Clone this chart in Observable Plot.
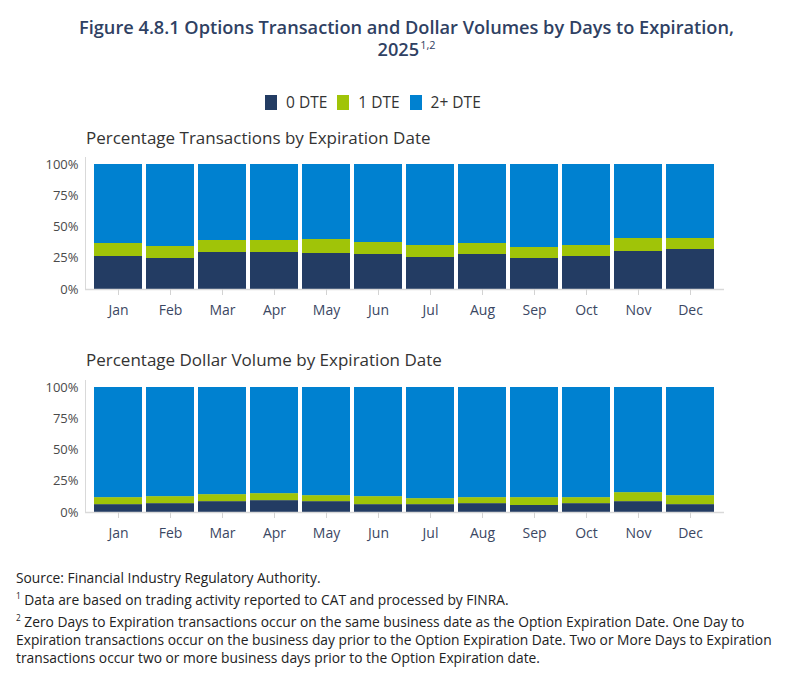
<!DOCTYPE html>
<html><head><meta charset="utf-8">
<script src="https://cdn.jsdelivr.net/npm/d3@7"></script>
<script src="https://cdn.jsdelivr.net/npm/@observablehq/plot@0.6"></script>
<style>
body{margin:0;background:#fff;font-family:"Open Sans",sans-serif;}
#wrap{position:relative;width:805px;height:682px;overflow:hidden;}
.title{position:absolute;left:4px;width:805px;text-align:center;color:#2f4163;font-size:18.2px;font-weight:600;line-height:22px;}
.sub{position:absolute;left:86px;font-size:17px;color:#333;}
.legend{position:absolute;top:91px;left:260px;display:flex;font-size:15.5px;color:#333;}
.legend .it{display:flex;align-items:center;margin:0 5px;}
.legend .sw{width:12px;height:15px;margin-right:9px;}
.chart{position:absolute;left:0;}
.note{position:absolute;left:16px;font-size:13.8px;color:#222;line-height:18px;white-space:nowrap;}
sup{font-size:0.6em;vertical-align:super;line-height:0;}
.title sup{margin-left:1px;font-weight:500;}
</style></head>
<body><div id="wrap">
<div class="title" style="top:16px">Figure 4.8.1 Options Transaction and Dollar Volumes by Days to Expiration,</div>
<div class="title" style="top:38px">2025<sup>1,2</sup></div>
<div class="legend" id="legend"></div>
<div class="sub" style="top:126px">Percentage Transactions by Expiration Date</div>
<div class="chart" id="c1" style="top:150px"></div>
<div class="sub" style="top:348px">Percentage Dollar Volume by Expiration Date</div>
<div class="chart" id="c2" style="top:373px"></div>
<div class="note" style="top:569px">Source: Financial Industry Regulatory Authority.</div>
<div class="note" style="top:591px"><sup>1</sup> Data are based on trading activity reported to CAT and processed by FINRA.</div>
<div class="note" style="top:613px"><sup>2</sup> Zero Days to Expiration transactions occur on the same business date as the Option Expiration Date. One Day to<br>Expiration transactions occur on the business day prior to the Option Expiration Date. Two or More Days to Expiration<br>transactions occur two or more business days prior to the Option Expiration date.</div>
</div>
<script>
const months = ["Jan","Feb","Mar","Apr","May","Jun","Jul","Aug","Sep","Oct","Nov","Dec"];
const series = ["0 DTE","1 DTE","2+ DTE"];
const colors = ["#233c63","#a0c408","#0081d0"];
const yTicks = [0,25,50,75,100];

const txn0 = [26.4,24.8,29.6,29.6,28.8,28.0,25.6,28.0,24.8,26.4,30.4,32.0];
const txn1 = [10.4,9.6,9.6,9.6,11.2,9.6,9.6,8.8,8.8,8.8,10.4,8.8];
const txn2 = [63.2,65.6,60.8,60.8,60.0,62.4,64.8,63.2,66.4,64.8,59.2,59.2];

const dol0 = [6.3,7.1,8.7,9.5,8.7,6.3,6.3,7.1,5.6,7.1,8.7,6.3];
const dol1 = [5.6,5.6,5.6,5.6,4.8,6.4,4.8,4.8,6.3,4.8,7.2,7.2];
const dol2 = [88.1,87.3,85.7,84.9,86.5,87.3,88.9,88.1,88.1,88.1,84.1,86.5];

function rows(arrs){
  const out=[];
  months.forEach((m,i)=>{ arrs.forEach((a,j)=>out.push({month:m, series:series[j], value:a[i]})); });
  return out;
}

function chart(data){
  return Plot.plot({
    width:805, height:174,
    marginTop:7, marginBottom:35, marginLeft:85, marginRight:81,
    style:{fontFamily:"Open Sans", fontSize:"13px", background:"transparent"},
    x:{domain:months, paddingInner:0.076, paddingOuter:0.153, label:null},
    y:{domain:[0,100], insetTop:7, label:null},
    color:{domain:series, range:colors},
    marks:[
      Plot.barY(data,{x:"month", y:"value", fill:"series"}),
      Plot.frame({anchor:"left", stroke:"#d9d9d9"}),
      Plot.ruleY([0],{stroke:"#d9d9d9", strokeWidth:1.5}),
      Plot.axisX({tickSize:6, tickPadding:10, stroke:"#d3d3d3", fill:"#3b4763", fontSize:14}),
      Plot.axisY({ticks:yTicks, tickSize:0, tickPadding:7, tickFormat:d=>d+"%", fill:"#4a4a4a", fontSize:13})
    ]
  });
}

document.getElementById("c1").append(chart(rows([txn0,txn1,txn2])));
document.getElementById("c2").append(chart(rows([dol0,dol1,dol2])));

const lg=document.getElementById("legend");
series.forEach((s,i)=>{
  const it=document.createElement("div"); it.className="it";
  const sw=document.createElement("div"); sw.className="sw"; sw.style.background=colors[i];
  const t=document.createElement("span"); t.textContent=s;
  it.append(sw,t); lg.append(it);
});
</script>
</body></html>
